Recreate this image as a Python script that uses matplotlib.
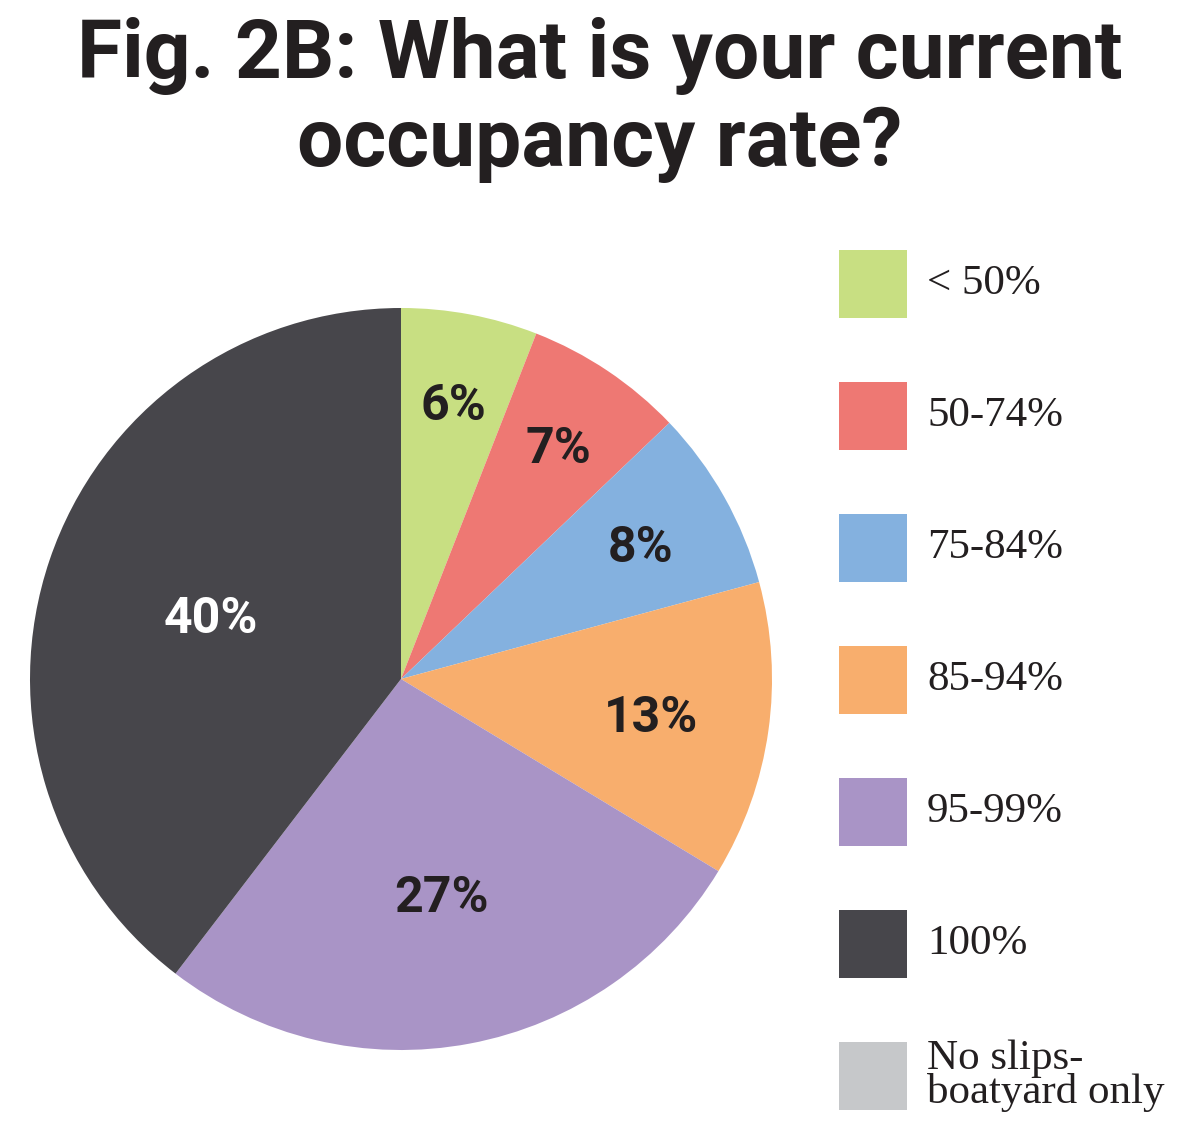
import matplotlib
matplotlib.use("Agg")
import matplotlib.pyplot as plt
from matplotlib.patches import Rectangle
import numpy as np

# ---- data ----
categories = ["< 50%", "50-74%", "75-84%", "85-94%", "95-99%", "100%", "No slips-\nboatyard only"]
values = [6, 7, 8, 13, 27, 40, 0]
value_labels = ["6%", "7%", "8%", "13%", "27%", "40%", ""]
title_lines = ["Fig. 2B: What is your current", "occupancy rate?"]

# ---- style ----
colors = ["#c8df82", "#ee7873", "#84b1df", "#f8ae6d", "#a994c6", "#47464b", "#c6c8ca"]
label_colors = ["#231f20", "#231f20", "#231f20", "#231f20", "#231f20", "#ffffff", "#231f20"]
label_radius = [0.76, 0.76, 0.74, 0.68, 0.59, 0.54, 0.5]
text_dark = "#231f20"

W, H = 1200, 1128
fig = plt.figure(figsize=(W / 100, H / 100), dpi=100)
fig.patch.set_facecolor("white")

# pie axes: centre (401,679) px, radius 371 px
cx, cy, r = 401, 679, 371
ax = fig.add_axes([(cx - r) / W, 1 - (cy + r) / H, 2 * r / W, 2 * r / H])
wedges, _ = ax.pie(values, colors=colors, startangle=90, counterclock=False,
                   radius=1.0, wedgeprops=dict(linewidth=0))
ax.set_xlim(-1, 1)
ax.set_ylim(-1, 1)
ax.axis("off")

for w, lab, col, rad in zip(wedges, value_labels, label_colors, label_radius):
    if not lab:
        continue
    ang = np.deg2rad((w.theta1 + w.theta2) / 2)
    ax.annotate(lab, (rad * np.cos(ang), rad * np.sin(ang)), xytext=(0, -13),
                textcoords="offset points", ha="center", va="baseline",
                fontsize=36, fontweight="bold", color=col, family="Roboto")

# title (two lines, baselines at 78 px and 166 px from top)
for line, base in zip(title_lines, [78, 166]):
    fig.text(0.5, 1 - base / H, line, ha="center", va="baseline", fontsize=59,
             fontweight="bold", color=text_dark, family="Roboto")

# legend drawn in pixel coordinates
lax = fig.add_axes([0, 0, 1, 1], facecolor="none")
lax.set_xlim(0, W)
lax.set_ylim(H, 0)
lax.axis("off")
top0, step, size = 250, 132, 68
for i, (cat, col) in enumerate(zip(categories, colors)):
    y = top0 + i * step
    lax.add_patch(Rectangle((839, y), size, size, facecolor=col, edgecolor="none"))
    lax.text(927, y + size / 2, cat, ha="left", va="center", fontsize=31,
             family="Liberation Serif", color=text_dark, linespacing=0.85)

fig.savefig("out.png", dpi=100)
